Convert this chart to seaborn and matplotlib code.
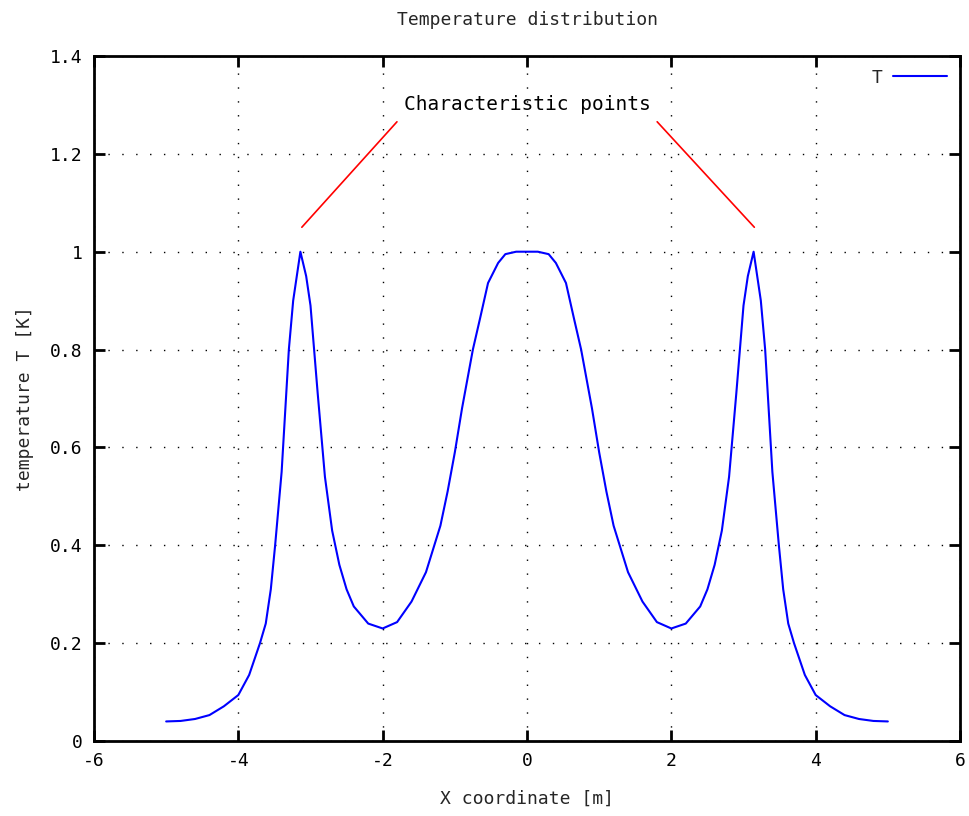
"""Temperature distribution, gnuplot-style line chart."""

import matplotlib

matplotlib.use("Agg")

import matplotlib.pyplot as plt
import pandas as pd
import seaborn as sns
from matplotlib.ticker import FormatStrFormatter


X_COORD = [
    -5.0, -4.8, -4.6, -4.4, -4.2, -4.0, -3.85, -3.7, -3.62, -3.55, -3.49, -3.4,
    -3.3, -3.24, -3.14, -3.06, -3.0, -2.9, -2.8, -2.7, -2.6, -2.5, -2.4, -2.2,
    -2.0, -1.8, -1.6, -1.4, -1.2, -1.1, -1.0, -0.9, -0.75, -0.65, -0.54, -0.4,
    -0.3, -0.15, 0.0, 0.15, 0.3, 0.4, 0.54, 0.65, 0.75, 0.9, 1.0, 1.1,
    1.2, 1.4, 1.6, 1.8, 2.0, 2.2, 2.4, 2.5, 2.6, 2.7, 2.8, 2.9,
    3.0, 3.06, 3.14, 3.24, 3.3, 3.4, 3.49, 3.55, 3.62, 3.7, 3.85, 4.0,
    4.2, 4.4, 4.6, 4.8, 5.0,
]
TEMPERATURE = [
    0.040, 0.041, 0.045, 0.053, 0.071, 0.094, 0.135, 0.20, 0.24, 0.31, 0.40, 0.55,
    0.80, 0.90, 1.00, 0.95, 0.89, 0.71, 0.54, 0.43, 0.36, 0.31, 0.275, 0.24,
    0.23, 0.243, 0.285, 0.345, 0.44, 0.51, 0.59, 0.68, 0.80, 0.864, 0.936, 0.977,
    0.995, 1.0, 1.0, 1.0, 0.995, 0.977, 0.936, 0.864, 0.80, 0.68, 0.59, 0.51,
    0.44, 0.345, 0.285, 0.243, 0.23, 0.24, 0.275, 0.31, 0.36, 0.43, 0.54, 0.71,
    0.89, 0.95, 1.00, 0.90, 0.80, 0.55, 0.40, 0.31, 0.24, 0.20, 0.135, 0.094,
    0.071, 0.053, 0.045, 0.041, 0.040,
]
X_TICKS = [-6, -4, -2, 0, 2, 4, 6]
Y_TICKS = [0, 0.2, 0.4, 0.6, 0.8, 1.0, 1.2, 1.4]

NOTE_TEXT = "Characteristic points"
NOTE_POS = (0.0, 1.30)
NOTE_TARGETS = [(-3.12, 1.05), (3.15, 1.05)]

sns.set_theme(style="ticks")
plt.rcParams["font.family"] = ["DejaVu Sans Mono", "DejaVu Sans"]
plt.rcParams["axes.unicode_minus"] = False

df = pd.DataFrame({"x": X_COORD, "T": TEMPERATURE})

fig = plt.figure(figsize=(9.7, 8.16), dpi=100)
ax = fig.add_axes([0.0969, 0.0919, 0.8928, 0.8395])

sns.lineplot(data=df, x="x", y="T", color="#0000ff", linewidth=1.5, label="T", sort=False, ax=ax)

ax.set_xlim(-6, 6)
ax.set_ylim(0, 1.4)
ax.set_xticks(X_TICKS)
ax.set_yticks(Y_TICKS)
ax.yaxis.set_major_formatter(FormatStrFormatter("%g"))
ax.grid(True, color="black", linestyle=(0, (1, 9)), linewidth=1.0)
for s in ax.spines.values():
    s.set_linewidth(2.0)
    s.set_color("black")
ax.tick_params(direction="in", length=8, width=2.0, top=True, right=True,
               labelsize=13, colors="black", pad=8)

ax.set_title("Temperature distribution", fontsize=13, pad=22)
ax.set_xlabel("X coordinate [m]", fontsize=13, labelpad=14)
ax.set_ylabel("temperature T [K]", fontsize=13, labelpad=12)

for i, target in enumerate(NOTE_TARGETS):
    ax.annotate(
        NOTE_TEXT,
        xy=target,
        xytext=NOTE_POS,
        ha="center",
        va="center",
        fontsize=14,
        color="black" if i == 0 else "none",
        arrowprops=dict(arrowstyle="-", color="red", lw=1.2,
                        relpos=(0.0, 0.0) if i == 0 else (1.0, 0.0),
                        shrinkA=4, shrinkB=0),
    )

leg = ax.legend(loc="upper right", frameon=False, markerfirst=False,
                handlelength=3.0, handletextpad=0.6, fontsize=13, borderaxespad=0.3)

fig.savefig("out.png", dpi=100)
plt.close(fig)
